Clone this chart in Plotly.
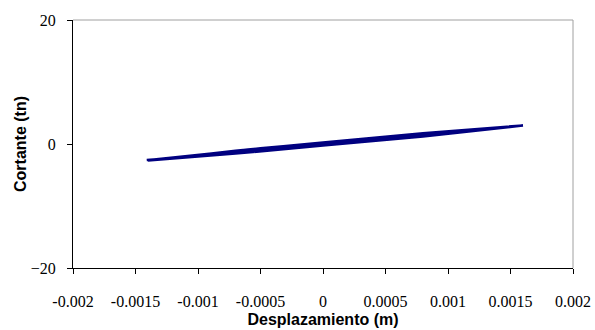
import plotly.graph_objects as go

# Shear vs. displacement hysteresis record, cycle by cycle
ciclo1_desp = [0, 0.0002, 0.0004, 0.0002, 0, -0.0002, -0.0004, -0.0002, 0]
ciclo1_cort = [-0.2, 0.2, 0.75, 0.58, 0.2, -0.18, -0.75, -0.58, -0.2]

ciclo2_desp = [0.00035, 0.0007, 0.00035, 0, -0.00035, -0.0007, -0.00035, 0]
ciclo2_cort = [0.45, 1.31, 0.87, 0.22, -0.45, -1.31, -0.87, -0.22]

ciclo3_desp = [0.0005, 0.001, 0.0005, 0, -0.0005, -0.001, -0.0005, 0]
ciclo3_cort = [0.7, 1.87, 1.16, 0.22, -0.7, -1.87, -1.16, -0.22]

ciclo4_desp = [0.00048, 0.00098, 0.0005, 0, -0.0005, -0.00102, -0.0005, 0]
ciclo4_cort = [0.66, 1.8, 1.13, 0.17, -0.73, -1.92, -1.13, -0.17]

ciclo5_desp = [0.0007, 0.0013, 0.0007, 0, -0.0006, -0.0012, -0.0006, 0]
ciclo5_cort = [1.1, 2.43, 1.52, 0.24, -0.9, -2.24, -1.34, -0.24]

ciclo6_desp = [0.0007, 0.00128, 0.0007, 0, -0.0006, -0.00122, -0.0006, 0]
ciclo6_cort = [1.06, 2.36, 1.47, 0.19, -0.95, -2.3, -1.3, -0.19]

ciclo7_desp = [0.0008, 0.0016, 0.0008, 0, -0.0007, -0.0014, -0.0007, 0]
ciclo7_cort = [1.26, 2.99, 1.74, 0.24, -1.08, -2.68, -1.55, -0.24]

ciclo8_desp = [0.0008, 0.00158, 0.0008, 0, -0.0007, -0.00141, -0.0007, 0]
ciclo8_cort = [1.22, 2.93, 1.7, 0.2, -1.12, -2.6, -1.52, -0.2]

x_ticks = [-0.002, -0.0015, -0.001, -0.0005, 0, 0.0005, 0.001, 0.0015, 0.002]
x_labels = ["-0.002", "-0.0015", "-0.001", "-0.0005", "0", "0.0005", "0.001", "0.0015", "0.002"]
y_ticks = [-20, 0, 20]

desplazamiento = (ciclo1_desp + ciclo2_desp + ciclo3_desp + ciclo4_desp
                  + ciclo5_desp + ciclo6_desp + ciclo7_desp + ciclo8_desp)
cortante = (ciclo1_cort + ciclo2_cort + ciclo3_cort + ciclo4_cort
            + ciclo5_cort + ciclo6_cort + ciclo7_cort + ciclo8_cort)

fig = go.Figure()
fig.add_trace(go.Scatter(
    x=desplazamiento, y=cortante, mode="lines",
    line=dict(color="#000080", width=2.5),
    showlegend=False,
))

tick_font = dict(family="'Liberation Serif', 'DejaVu Serif', serif", size=16, color="black")
title_font = dict(family="Liberation Sans", size=16, color="black", weight="bold")

fig.update_layout(
    width=595, height=330,
    font=dict(family="'Liberation Serif', serif", size=16, color="black"),
    margin=dict(l=73, r=22, t=20, b=62),
    paper_bgcolor="white", plot_bgcolor="white",
    xaxis=dict(
        range=[-0.002, 0.002], tickvals=x_ticks, ticktext=x_labels,
        automargin=False,
        showgrid=False, zeroline=False, showline=True, linecolor="black", linewidth=1,
        ticks="outside", ticklen=5, tickcolor="black", tickfont=tick_font,
        ticklabelstandoff=14,
        title=dict(text="Desplazamiento (m)", font=title_font, standoff=4),
    ),
    yaxis=dict(
        range=[-20, 20], tickvals=y_ticks,
        automargin=False,
        showgrid=False, zeroline=False, showline=True, linecolor="black", linewidth=1,
        ticks="outside", ticklen=5, tickcolor="black", tickfont=tick_font,
        ticklabelstandoff=8,
        title=dict(text="Cortante (tn)", font=title_font, standoff=0),
    ),
    shapes=[
        dict(type="line", xref="paper", yref="paper", x0=0, x1=1, y0=1, y1=1,
             line=dict(color="#a0a0a0", width=1)),
        dict(type="line", xref="paper", yref="paper", x0=1, x1=1, y0=0, y1=1,
             line=dict(color="#a0a0a0", width=1)),
    ],
)

fig.write_html("out.html")
